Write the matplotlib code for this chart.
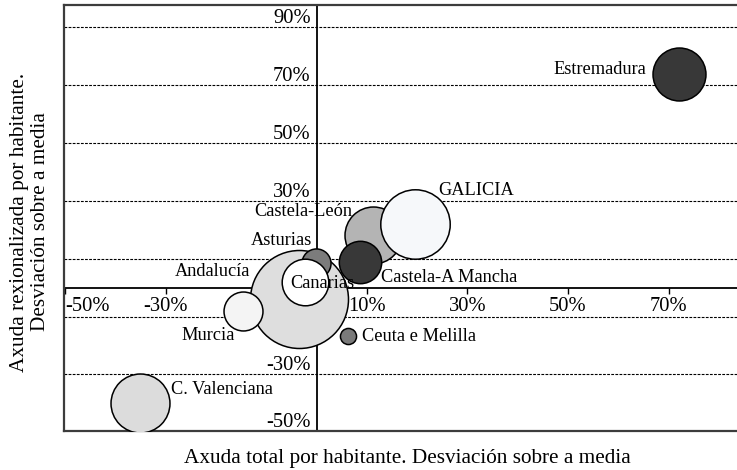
import matplotlib
matplotlib.use("Agg")
import matplotlib.pyplot as plt
from matplotlib.transforms import offset_copy

plt.rcParams['font.family'] = ['Liberation Serif', 'DejaVu Serif']

# ---- data (percent deviation from the mean) ----
regions = ["Andalucía", "Asturias", "Canarias", "Castela-León", "Castela-A Mancha",
           "C. Valenciana", "Estremadura", "GALICIA", "Murcia", "Ceuta e Melilla"]
total_aid = [-3.5, -0.1, -2.3, 11.2, 8.7, -35.0, 72.0, 19.5, -14.7, 6.3]
regional_aid = [-4.1, 8.5, 1.9, 18.3, 8.9, -39.9, 73.8, 21.9, -8.1, -16.6]
bubble_size = [100, 8.8, 22.6, 33.8, 18.7, 36.2, 29.2, 50.2, 15.8, 2.7]

x_ticks = [-50, -30, -10, 10, 30, 50, 70]
y_ticks = [-50, -30, 30, 50, 70, 90]          # labels visible on the vertical axis
y_grid = [-30, -10, 10, 30, 50, 70, 90]

x_title = "Axuda total por habitante. Desviación sobre a media"
y_title = "Axuda rexionalizada por habitante.\nDesviación sobre a media"

# ---- styles ----
colors = ["#dedede", "#7c7c7c", "#ffffff", "#b4b4b4", "#383838",
          "#dcdcdc", "#383838", "#f6f8fa", "#f4f4f4", "#7a7a7a"]
# label offsets in pixels (dx, dy) and horizontal alignment
label_off = [(-49, 28), (-4, 22), (-15, -1), (-21, 23), (21, -16),
             (31, 14), (-32, 4), (24, 34), (-8, -24), (14, -1)]
label_ha = ["right", "right", "left", "right", "left",
            "left", "right", "left", "right", "left"]

W, H = 737, 470
fig = plt.figure(figsize=(W / 100, H / 100), dpi=100)
ax = fig.add_axes([64 / W, (H - 431) / H, (W - 64) / W, (431 - 5) / H])
ax.set_xlim(-50.2, 83.6)
ax.set_ylim(-49.5, 97.5)
ax.set_xticks([])
ax.set_yticks([])
for s in ["left", "top", "bottom"]:
    ax.spines[s].set_color("#3c3c3c")
    ax.spines[s].set_linewidth(1.6)
ax.spines["right"].set_visible(False)

FS_TICK = 14.8
FS_LAB = 13.2
FS_TITLE = 15.3

# grid lines
for g in y_grid:
    ax.axhline(g, color="black", lw=0.8, ls=(0, (2.5, 1.2)), zorder=1)

# axis lines through the origin
ax.axhline(0, color="black", lw=1.3, zorder=1.5)
ax.axvline(0, color="black", lw=1.3, zorder=1.5)

# x tick marks and labels
xmin = ax.get_xlim()[0]
for v in x_ticks:
    ax.plot([v], [0], marker=3, markersize=4, color="black", mew=1.0,
            zorder=1.5, clip_on=False)
    xv = max(v, xmin)
    ha = "left" if v <= xmin + 1 else "center"
    tr = offset_copy(ax.transData, fig=fig, x=0, y=-9, units="dots")
    ax.text(xv, 0, f"{v}%", transform=tr, ha=ha, va="top", fontsize=FS_TICK, zorder=1.6)

# y tick labels (above grid lines, left of vertical axis)
ymin = ax.get_ylim()[0]
for v in y_ticks:
    tr = offset_copy(ax.transData, fig=fig, x=-6, y=-1, units="dots")
    yv = max(v, ymin)
    ax.text(0, yv, f"{v}%", transform=tr, ha="right", va="bottom",
            fontsize=FS_TICK, zorder=1.6)

# bubbles (area proportional to size)
scale = (2 * 49 * 0.72) ** 2 / 100
for i in range(len(regions)):
    ax.scatter([total_aid[i]], [regional_aid[i]], s=bubble_size[i] * scale,
               color=colors[i], edgecolors="black", linewidths=1.1, zorder=3 + i * 0.01)

# bubble labels
for i, name in enumerate(regions):
    ax.annotate(name, (total_aid[i], regional_aid[i]), xytext=label_off[i],
                textcoords="offset pixels", ha=label_ha[i], va="center",
                fontsize=FS_LAB, zorder=10)

fig.text(407 / W, 1 - 458 / H, x_title, ha="center", va="center", fontsize=FS_TITLE)
fig.text(30 / W, 1 - 222 / H, y_title, ha="center", va="center", fontsize=FS_TITLE,
         rotation=90, linespacing=1.2, multialignment="center")

fig.savefig("out.png", dpi=100)
